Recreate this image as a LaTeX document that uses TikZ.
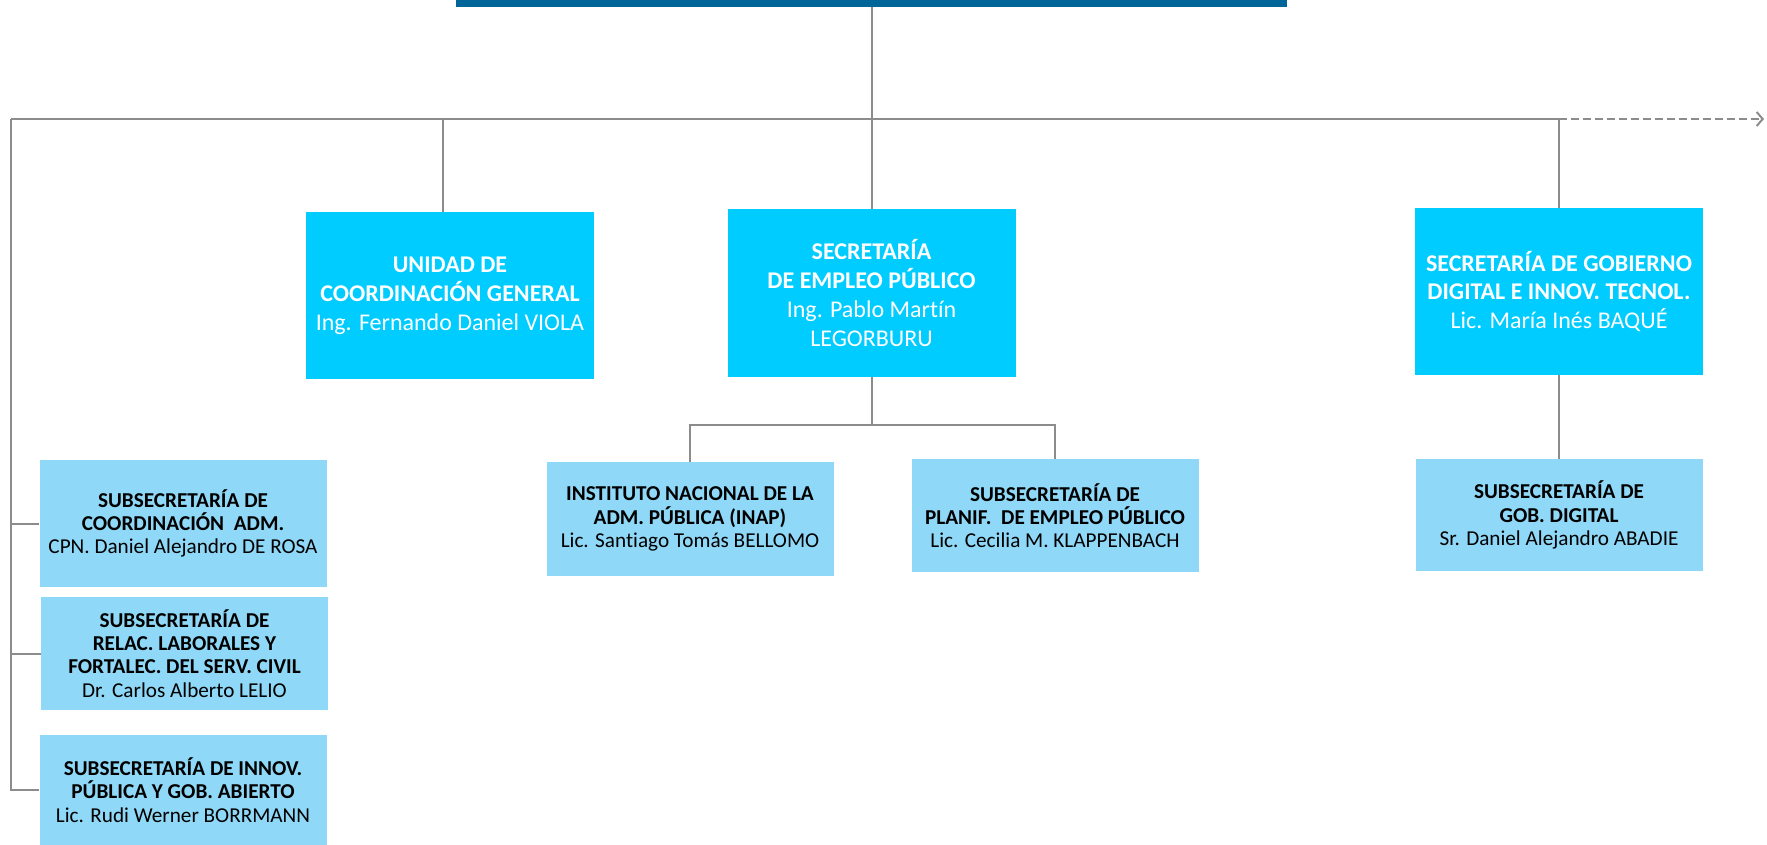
\documentclass[tikz,border=0pt]{standalone}
\usepackage{fontspec}
\setmainfont{Carlito}[Ligatures=NoCommon]
\usetikzlibrary{arrows.meta}
\definecolor{barazul}{RGB}{0,102,153}
\definecolor{cajacian}{RGB}{0,204,255}
\definecolor{cajaclara}{RGB}{143,216,247}
\definecolor{lineagris}{RGB}{140,140,140}

\begin{document}
\begin{tikzpicture}[x=0.5pt,y=-0.5pt,
    secretaria/.style={rectangle,fill=cajacian,text=white,align=center,inner sep=0pt,
      minimum width=144pt,minimum height=83.5pt,font=\fontsize{12}{14.4}\selectfont},
    subsec/.style={rectangle,fill=cajaclara,text=black,align=center,inner sep=0pt,
      minimum width=143.5pt,font=\fontsize{10.6}{11.6}\selectfont},
    enlace/.style={draw=lineagris,line width=1pt}]
  \useasboundingbox (0,0) rectangle (1767,845);

  \node[fill=barazul,inner sep=0pt,minimum width=415.5pt,minimum height=3.5pt] (jefe) at (871.5,3.5) {};

  \node[secretaria] (ucg) at (450,295.5) {\textbf{UNIDAD DE}\\\textbf{COORDINACIÓN GENERAL}\\Ing. Fernando Daniel VIOLA};
  \node[secretaria] (sep) at (871.5,293) {\textbf{SECRETARÍA}\\\textbf{DE EMPLEO PÚBLICO}\\Ing. Pablo Martín\\LEGORBURU};
  \node[secretaria] (sgd) at (1559,291.5) {\textbf{SECRETARÍA DE GOBIERNO}\\\textbf{DIGITAL E INNOV. TECNOL.}\\Lic. María Inés BAQUÉ};

  \node[subsec,minimum height=63.5pt] (coord) at (183,523.5) {\textbf{SUBSECRETARÍA DE}\\\textbf{COORDINACIÓN\ \ ADM.}\\CPN. Daniel Alejandro DE ROSA};
  \node[subsec,minimum height=56.5pt] (relac) at (184.5,653.5) {\textbf{SUBSECRETARÍA DE}\\\textbf{RELAC. LABORALES Y}\\\textbf{FORTALEC. DEL SERV. CIVIL}\\Dr. Carlos Alberto LELIO};
  \node[subsec,minimum height=55pt] (innov) at (183,790) {\textbf{SUBSECRETARÍA DE INNOV.}\\\textbf{PÚBLICA Y GOB. ABIERTO}\\Lic. Rudi Werner BORRMANN};

  \node[subsec,minimum height=57pt] (inap) at (690,519) {\textbf{INSTITUTO NACIONAL DE LA}\\\textbf{ADM. PÚBLICA (INAP)}\\Lic. Santiago Tomás BELLOMO};
  \node[subsec,minimum height=56.5pt] (planif) at (1055,515.5) {\textbf{SUBSECRETARÍA DE}\\\textbf{PLANIF.\ \ DE EMPLEO PÚBLICO}\\Lic. Cecilia M. KLAPPENBACH};
  \node[subsec,minimum height=56pt] (subgd) at (1559,515) {\textbf{SUBSECRETARÍA DE}\\\textbf{GOB. DIGITAL}\\Sr. Daniel Alejandro ABADIE};

  \coordinate (izq) at (11,119);
  \coordinate (der) at (1559,119);
  \coordinate (fuera) at (1764,119);
  \coordinate (medio) at (871.5,425);

  % linea principal
  \draw[enlace] (jefe.south) -- (sep.north);
  \draw[enlace] (izq) -- (der);
  \draw[enlace,dash pattern=on 4pt off 2pt,-{Straight Barb[length=3pt,width=7pt]}] (der) -- (fuera);
  \draw[enlace] ([xshift=-3.5pt]ucg.north) -- ([xshift=-3.5pt]ucg.north |- izq);
  \draw[enlace] (der) -- (sgd.north);

  % subsecretarias de la izquierda
  \draw[enlace] (izq) |- (coord.west);
  \draw[enlace] (izq) |- (relac.west);
  \draw[enlace] (izq) |- (innov.west);

  % dependencias
  \draw[enlace] (sep.south) -- (medio);
  \draw[enlace] (inap.north) |- (medio) -| (planif.north);
  \draw[enlace] (sgd.south) -- (subgd.north);
\end{tikzpicture}
\end{document}
